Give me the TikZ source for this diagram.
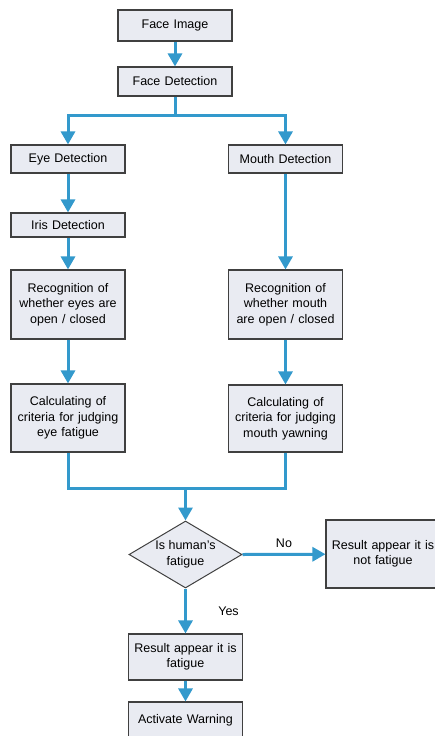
\documentclass[tikz,border=0pt]{standalone}
\usepackage{fontspec}
\setmainfont{Liberation Sans}
\usetikzlibrary{arrows.meta,shapes.geometric}

\definecolor{boxfill}{HTML}{E9EBF2}
\definecolor{boxline}{HTML}{404040}
\definecolor{flowblue}{HTML}{3399CC}
\newcommand\boxfont{\fontsize{12.5}{15.5}\selectfont}

\begin{document}
\begin{tikzpicture}[x=1pt, y=-1pt,
  box/.style={draw=boxline, fill=boxfill, line width=1.1pt, align=center,
    text width=108pt, minimum width=114pt, inner sep=2pt, font=\boxfont},
  decide/.style={diamond, draw=boxline, fill=boxfill, line width=1pt, align=center,
    aspect=1.7, inner sep=0pt, minimum width=113pt, minimum height=67pt, font=\boxfont},
  link/.style={draw=flowblue, line width=3pt},
  flow/.style={link, -{Triangle[length=13pt,width=14pt]}},
  lbl/.style={font=\boxfont}]
\useasboundingbox (0,0) rectangle (434,736);

% main stem
\node[box, minimum height=31pt] (faceimg) at (175,25.5) {Face Image};
\node[box, minimum height=29pt] (facedet) at (175,81.5) {Face Detection};

% eye branch
\node[box, minimum height=28pt] (eyedet) at (68,159) {Eye Detection};
\node[box, minimum height=24pt] (irisdet) at (68,225) {Iris Detection};
\node[box, minimum height=69pt] (eyerec) at (68,304.5) {Recognition of\\ whether eyes are\\ open / closed};
\node[box, minimum height=68pt] (eyecalc) at (68,418) {Calculating of\\ criteria for judging\\ eye fatigue};

% mouth branch
\node[box, minimum height=28pt] (mouthdet) at (285.5,159) {Mouth Detection};
\node[box, minimum height=69pt] (mouthrec) at (285.5,304.5) {Recognition of\\ whether mouth\\ are open / closed};
\node[box, minimum height=67pt] (mouthcalc) at (285.5,418.5) {Calculating of\\ criteria for judging\\ mouth yawning};

% decision and results
\node[decide] (fatigue) at (185.5,554.5) {Is human's\\ fatigue};
\node[box, minimum height=68pt] (notfat) at (383,554) {Result appear it is\\ not fatigue};
\node[box, minimum height=46pt] (isfat) at (185.5,657) {Result appear it is\\ fatigue};
\node[box, minimum height=36pt] (warning) at (185.5,720) {Activate Warning};

\coordinate (split) at (175,115);
\coordinate (merge) at (185.5,488);

\draw[flow] (faceimg) -- (facedet);
\draw[link] (facedet) -- (split);
\draw[flow] (split) -| (eyedet);
\draw[flow] (split) -| (mouthdet);

\draw[flow] (eyedet) -- (irisdet);
\draw[flow] (irisdet) -- (eyerec);
\draw[flow] (eyerec) -- (eyecalc);
\draw[flow] (mouthdet) -- (mouthrec);
\draw[flow] (mouthrec) -- (mouthcalc);

\draw[link] (eyecalc) |- (merge);
\draw[link] (mouthcalc) |- (merge);
\draw[flow] (merge) -- (fatigue);

\draw[flow] (fatigue.east) -- (notfat) node[lbl, midway, above=2pt] {No};
\draw[flow] (fatigue.south) -- (isfat) node[lbl, midway, right=28pt] {Yes};
\draw[flow] (isfat) -- (warning);
\end{tikzpicture}
\end{document}
